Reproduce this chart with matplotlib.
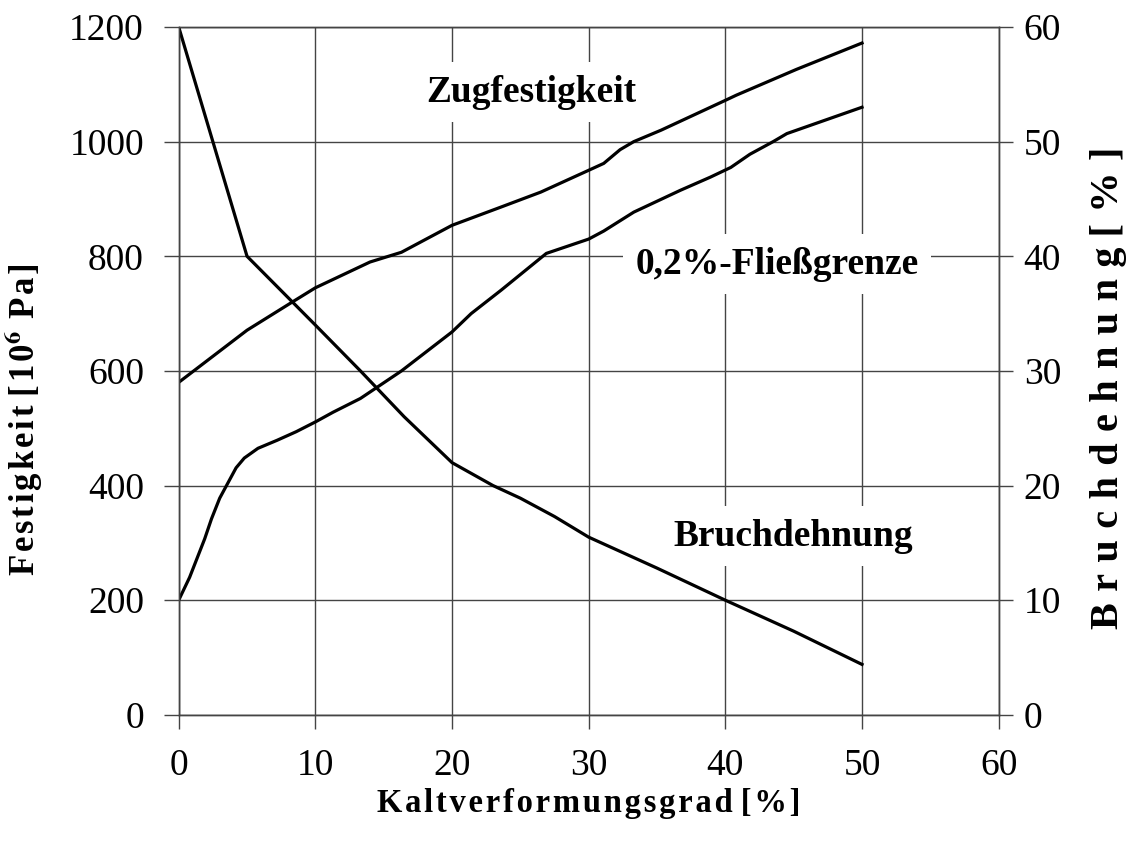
import matplotlib.pyplot as plt
import matplotlib

matplotlib.rcParams['font.family'] = ['Liberation Serif', 'DejaVu Serif']
matplotlib.rcParams['mathtext.fontset'] = 'stix'

# Kaltverformungsgrad [%] / Werte
zug_x = [0, 5, 8.3, 10, 14, 16.3, 20, 23.6, 26.5, 30, 31.1, 32.3, 33.3, 35.3, 40, 40.8, 45.2, 50]
zug_y = [580, 671, 720, 745, 790, 807, 854, 886, 912, 950, 962, 986, 1000, 1020, 1072, 1081, 1126, 1172]

fg_x = [0, 0.8, 1.9, 2.4, 3.0, 4.2, 4.8, 5.8, 7.2, 8.6, 10, 11.3, 13.3, 16.3, 20, 21.4, 23.6,
        26.9, 30, 31.1, 33.3, 36.7, 38.9, 40.4, 41.8, 43.5, 44.5, 50]
fg_y = [200, 240, 307, 342, 378, 431, 448, 465, 479, 494, 511, 528, 552, 600, 668, 700, 741,
        805, 830, 844, 877, 915, 938, 955, 978, 1000, 1014, 1060]

bruch_x = [0, 5, 10, 13.3, 16.5, 20, 23, 25, 27.5, 30, 35, 40, 45, 50]
bruch_y = [60, 40, 34, 30, 26, 22, 20, 18.9, 17.3, 15.5, 12.8, 10, 7.3, 4.4]

x_ticks = [0, 10, 20, 30, 40, 50, 60]
left_ticks = [0, 200, 400, 600, 800, 1000, 1200]
right_ticks = [0, 10, 20, 30, 40, 50, 60]


def sperren(text, sep='\u200a'):
    # gesperrte Schrift: Zeichen durch schmale Leerzeichen trennen
    return sep.join(list(text)).replace(sep + ' ' + sep, ' ')


fig = plt.figure(figsize=(11.31, 8.43), dpi=100)
ax = fig.add_axes([0.158, 0.152, 0.725, 0.816])
ax2 = ax.twinx()

# Gitter
ax.set_xlim(0, 60)
ax.set_ylim(0, 1200)
ax.set_xticks(x_ticks)
ax.set_yticks(left_ticks)
ax.grid(True, color='#444444', linewidth=1.0)
ax.set_axisbelow(True)

ax2.set_ylim(0, 60)
ax2.set_yticks(right_ticks)

for a in (ax, ax2):
    for s in a.spines.values():
        s.set_color('#444444')
        s.set_linewidth(1.0)

ax.tick_params(axis='y', direction='out', length=11, width=1, pad=14, labelsize=27, color='#444444')
ax.tick_params(axis='x', direction='out', length=10, width=1, pad=14, labelsize=27, color='#444444')
ax2.tick_params(axis='y', direction='out', length=10, width=1, pad=8, labelsize=27, color='#444444')

# Kurven
ax.plot(zug_x, zug_y, color='black', linewidth=2.3)
ax.plot(fg_x, fg_y, color='black', linewidth=2.3)
ax2.plot(bruch_x, bruch_y, color='black', linewidth=2.3)

# Kurvenbeschriftungen
box = dict(facecolor='white', edgecolor='none', pad=9)
ax2.text(25.8, 54.3, 'Zugfestigkeit', fontsize=27, fontweight='bold',
         ha='center', va='center', bbox=box)
ax2.text(43.8, 39.3, '0,2%-Fließgrenze', fontsize=27, fontweight='bold',
         ha='center', va='center', bbox=box)
ax2.text(45.0, 15.6, 'Bruchdehnung', fontsize=27, fontweight='bold',
         ha='center', va='center', bbox=box)

# Achsenbeschriftungen
ax.set_xlabel(sperren('Kaltverformungsgrad [%]'), fontsize=23.5, fontweight='bold')
ax.xaxis.set_label_coords(0.5, -0.106)
ax.set_ylabel(sperren('Festigkeit [10') + '$^{\\mathbf{6}}$' + sperren(' Pa]'),
              fontsize=25, fontweight='bold')
ax.yaxis.set_label_coords(-0.163, 0.43)
ax2.set_ylabel(sperren('Bruchdehnung [%]', '\u2009\u200a'), fontsize=29, fontweight='bold')
ax2.yaxis.set_label_coords(1.111, 0.475)

fig.savefig('out.png', dpi=100)
